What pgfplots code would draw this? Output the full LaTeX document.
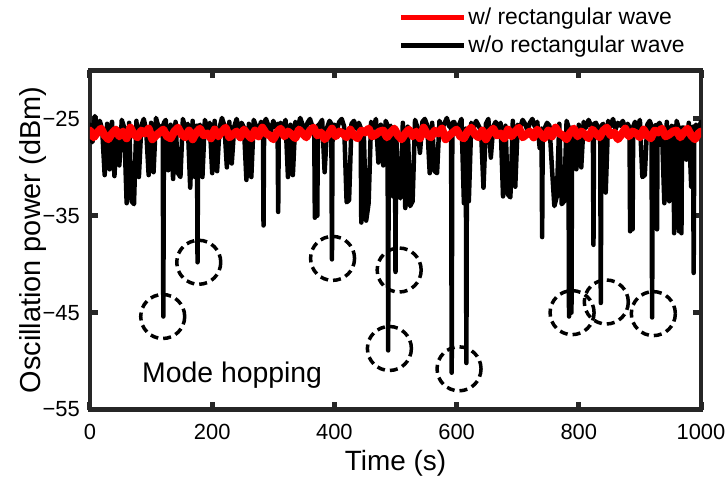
\documentclass[border=0pt]{standalone}
\usepackage{pgfplots}
\pgfplotsset{compat=1.18}
\usepackage{fontspec}
\setmainfont{Liberation Sans}
\definecolor{axgray}{HTML}{262626}
\begin{document}
\begin{tikzpicture}
\begin{axis}[
  scale only axis, width=611bp, height=339bp,
  xmin=0, xmax=1000, ymin=-55, ymax=-20,
  xtick={0,200,...,1000}, ytick={-55,-45,-35,-25},
  yticklabels={−55,−45,−35,−25},
  /pgf/number format/assume math mode=true,
  /pgf/number format/1000 sep={},
  tick align=inside, major tick length=8bp,
  tick style={line width=5bp, color=axgray},
  axis line style={line width=4.5bp, color=axgray},
  ticklabel style={font=\fontsize{22}{22}\selectfont, text=black},
  xticklabel style={anchor=base, yshift=-29.5bp, inner sep=0pt},
  yticklabel style={anchor=east, xshift=-10bp, inner sep=0pt},
  xlabel={Time (s)}, ylabel={Oscillation power (dBm)},
  xlabel style={at={(axis description cs:0.5,-0.1785)}, anchor=base, inner sep=0pt, font=\fontsize{28}{28}\selectfont},
  ylabel style={at={(axis description cs:-0.0818,0.5)}, anchor=base, inner sep=0pt, font=\fontsize{29}{29}\selectfont},
  legend style={at={(axis description cs:0.505,1.189)}, anchor=north west, draw=none, fill=none,
    font=\fontsize{23}{23}\selectfont, row sep=7bp, inner sep=0pt, nodes={inner sep=1.5bp}},
  legend cell align=left,
  legend image code/.code={\draw[#1, line width=5bp, line cap=butt] (0bp,0bp) -- (63bp,0bp);},
  reverse legend,
]

% w/o rectangular wave
\addplot[black, line width=4.5bp, line join=round, line cap=round] coordinates {
(0,-25.6) (4,-27.4) (8,-24.7) (12,-25.8) (16,-25.2) (20,-26.1) (24,-30.8) (28,-25.5)
(32,-30.2) (36,-25.3) (40,-30.9) (44,-26.0) (48,-29.8) (52,-25.1) (56,-25.9) (60,-33.7)
(64,-25.4) (68,-33.5) (72,-33.8) (76,-25.2) (80,-31.0) (84,-25.7) (88,-25.0) (92,-26.2)
(96,-30.8) (100,-25.4) (104,-30.5) (108,-24.9) (112,-25.8) (116,-26.3)
(119,-25.6) (120,-45.4) (121,-25.4) (124,-25.1)
(128,-30.3) (132,-25.6) (136,-31.2) (140,-25.3) (144,-30.6) (148,-31.0) (152,-25.0) (156,-26.0)
(160,-25.5) (164,-32.1) (168,-25.2) (172,-31.0) (175,-25.7) (176,-39.8) (177,-25.9) (180,-25.6) (184,-31.0) (188,-25.1)
(192,-26.0) (196,-25.4) (200,-30.6) (204,-25.2) (208,-30.4) (212,-25.9) (216,-24.9) (220,-25.7)
(224,-30.0) (228,-25.3) (232,-29.6) (236,-25.8) (240,-25.0) (244,-26.2) (248,-25.4) (252,-25.9)
(256,-31.3) (260,-25.5) (264,-31.0) (268,-25.1) (272,-25.8) (276,-26.1) (280,-25.3)
(283,-25.6) (284,-36.0) (285,-25.4)
(288,-25.0) (292,-25.7) (296,-26.3) (300,-25.2) (304,-25.9) (307,-25.5) (308,-34.6) (309,-25.8) (312,-25.4) (316,-26.0)
(320,-25.1) (324,-31.0) (328,-25.6) (332,-30.8) (336,-25.3) (340,-25.9) (344,-24.9) (348,-25.6)
(352,-26.2) (356,-25.4) (360,-25.0) (364,-25.8) (367,-25.9) (368,-35.2) (370,-26.0) (372,-35.0) (373,-25.7) (376,-25.5) (380,-25.1)
(384,-30.5) (388,-25.9) (392,-25.2) (395,-25.5) (396,-39.5) (397,-25.8) (400,-25.6) (404,-26.1) (408,-25.3) (412,-25.0)
(416,-25.8) (420,-33.6) (424,-33.4) (428,-25.5) (432,-25.2) (436,-26.0) (440,-25.4) (443,-25.9) (444,-35.7)
(448,-26.2) (452,-35.5) (456,-33.7) (460,-25.3) (464,-25.9) (468,-25.0) (472,-29.5) (476,-25.6)
(480,-29.8) (484,-25.2) (487,-25.7) (488,-48.9) (489,-25.9) (492,-25.7) (496,-33.0) (499,-26.0) (500,-40.8) (501,-26.1) (504,-32.5) (508,-33.2)
(512,-25.4) (516,-34.2) (520,-25.8) (524,-34.0) (528,-33.5) (532,-25.1) (536,-25.9) (540,-28.5)
(544,-25.3) (548,-25.0) (552,-25.7) (556,-30.6) (560,-25.4) (564,-30.4) (568,-30.6) (572,-25.2)
(576,-26.0) (580,-25.5) (584,-24.9) (588,-25.8) (591,-25.6) (592,-51.2) (593,-25.4) (596,-25.3) (600,-26.1) (604,-25.6)
(608,-25.0) (612,-33.7) (615,-26.0) (616,-50.2) (617,-26.1) (620,-33.5) (624,-25.4) (628,-25.9) (632,-25.2) (636,-25.7)
(640,-26.2) (644,-32.1) (648,-25.5) (652,-25.0) (656,-29.0) (660,-25.8) (664,-25.3) (668,-26.0)
(672,-25.4) (676,-33.0) (680,-25.7) (684,-32.8) (688,-33.1) (692,-25.2) (696,-32.0) (700,-25.6)
(704,-25.9) (708,-25.1) (712,-25.5) (716,-26.2) (720,-25.4) (724,-25.0) (728,-25.8) (732,-25.3)
(736,-28.0) (739,-26.0) (740,-37.2) (741,-26.1) (744,-26.0) (748,-25.4) (752,-25.7) (756,-30.0) (760,-34.0) (764,-33.0)
(768,-25.5) (772,-33.8) (776,-33.5) (780,-25.2) (783,-25.8) (784,-45.4) (786,-26.0) (788,-45.0) (789,-25.9) (792,-26.0) (796,-30.2)
(800,-25.6) (804,-30.0) (808,-25.3) (812,-25.9) (816,-25.1) (820,-25.7) (823,-25.6) (824,-38.0) (825,-25.5) (828,-25.4)
(832,-26.0) (835,-25.8) (836,-44.0) (837,-25.7) (840,-25.5) (844,-32.6) (848,-25.2) (852,-25.8) (856,-25.0) (860,-26.1)
(864,-25.4) (868,-25.7) (872,-25.2) (876,-26.0) (880,-25.5) (883,-25.9) (884,-36.6) (886,-26.0) (888,-36.4) (889,-25.8) (892,-25.3)
(896,-25.9) (900,-25.1) (904,-31.0) (908,-30.8) (912,-25.6) (916,-25.2) (919,-25.7) (920,-45.5) (921,-25.9) (924,-25.8)
(927,-25.6) (928,-36.4) (929,-25.7) (932,-25.4) (936,-26.0) (940,-33.7) (944,-25.3) (948,-33.5) (952,-25.7) (955,-25.9) (956,-36.8)
(960,-25.2) (963,-25.8) (964,-36.6) (966,-26.0) (968,-36.8) (969,-25.9) (972,-25.9) (976,-29.2) (980,-25.4) (984,-32.0)
(987,-25.8) (988,-40.9) (989,-26.0)
(992,-25.6) (996,-26.0) (1000,-25.3)
};
\addlegendentry{w/o rectangular wave}

% w/ rectangular wave
\addplot[red, line width=8bp, line join=round, line cap=round] coordinates {
(0,-26.2) (6,-26.9) (12,-26.4) (18,-26.0) (24,-26.7) (30,-27.1) (36,-26.5) (42,-26.1) (48,-26.8) (54,-26.3)
(60,-27.0) (66,-25.9) (72,-26.6) (78,-26.9) (84,-26.2) (90,-26.5) (96,-26.0) (102,-27.1) (108,-26.7) (114,-26.4)
(120,-26.1) (126,-26.8) (132,-27.0) (138,-26.3) (144,-25.9) (150,-26.6) (156,-26.9) (162,-26.2) (168,-27.1) (174,-26.4)
(180,-26.0) (186,-26.7) (192,-26.5) (198,-27.0) (204,-26.1) (210,-26.8) (216,-26.3) (222,-25.9) (228,-26.9) (234,-26.6)
(240,-26.3) (246,-26.9) (252,-26.1) (258,-26.6) (264,-27.0) (270,-26.2) (276,-26.8) (282,-25.9) (288,-26.5) (294,-26.7)
(300,-27.1) (306,-26.4) (312,-26.0) (318,-26.8) (324,-26.3) (330,-26.6) (336,-27.0) (342,-26.1) (348,-26.5) (354,-26.9)
(360,-26.2) (366,-25.9) (372,-26.7) (378,-26.4) (384,-27.1) (390,-26.6) (396,-26.0) (402,-26.8) (408,-26.3) (414,-26.5)
(420,-26.9) (426,-26.1) (432,-26.7) (438,-27.0) (444,-26.2) (450,-26.4) (456,-26.0) (462,-26.8) (468,-26.6) (474,-26.3)
(480,-26.2) (486,-26.9) (492,-26.4) (498,-26.0) (504,-26.7) (510,-27.1) (516,-26.5) (522,-26.1) (528,-26.8) (534,-26.3)
(540,-27.0) (546,-25.9) (552,-26.6) (558,-26.9) (564,-26.2) (570,-26.5) (576,-26.0) (582,-27.1) (588,-26.7) (594,-26.4)
(600,-26.1) (606,-26.8) (612,-27.0) (618,-26.3) (624,-25.9) (630,-26.6) (636,-26.9) (642,-26.2) (648,-27.1) (654,-26.4)
(660,-26.0) (666,-26.7) (672,-26.5) (678,-27.0) (684,-26.1) (690,-26.8) (696,-26.3) (702,-25.9) (708,-26.9) (714,-26.6)
(720,-26.3) (726,-26.9) (732,-26.1) (738,-26.6) (744,-27.0) (750,-26.2) (756,-26.8) (762,-25.9) (768,-26.5) (774,-26.7)
(780,-27.1) (786,-26.4) (792,-26.0) (798,-26.8) (804,-26.3) (810,-26.6) (816,-27.0) (822,-26.1) (828,-26.5) (834,-26.9)
(840,-26.2) (846,-25.9) (852,-26.7) (858,-26.4) (864,-27.1) (870,-26.6) (876,-26.0) (882,-26.8) (888,-26.3) (894,-26.5)
(900,-26.9) (906,-26.1) (912,-26.7) (918,-27.0) (924,-26.2) (930,-26.4) (936,-26.0) (942,-26.8) (948,-26.6) (954,-26.3)
(960,-26.2) (966,-26.9) (972,-26.4) (978,-26.0) (984,-26.7) (990,-27.1) (996,-26.5) (1000,-26.3)
};
\addlegendentry{w/ rectangular wave}

% dashed circles marking the mode hops
\addplot[forget plot, only marks, mark=o, mark size=22bp,
  mark options={black, line width=3.5bp, dash pattern=on 8bp off 5bp}] coordinates {
(119,-45.4) (178,-39.8) (397,-39.4) (490,-48.7) (506,-40.6) (604,-50.8) (789,-45.0) (845,-43.9) (922,-45.1)
};

\node[anchor=base west, inner sep=0pt, font=\fontsize{28.5}{28.5}\selectfont] at (axis cs:85,-52.2) {Mode hopping};
\end{axis}
\pgfresetboundingbox
\path[use as bounding box] (-90bp,-69.5bp) rectangle (637bp,409.5bp);
\end{tikzpicture}
\end{document}
